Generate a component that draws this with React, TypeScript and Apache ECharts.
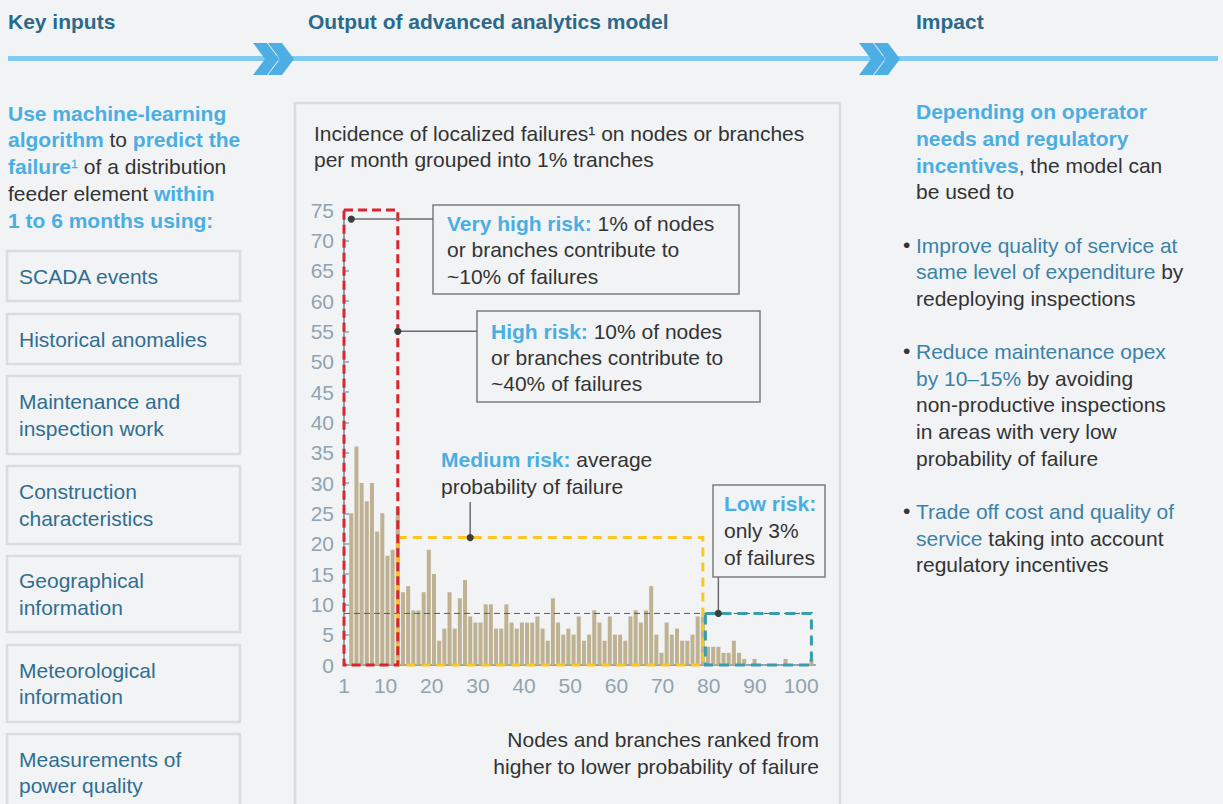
import React, { useEffect, useRef } from 'react';
import * as echarts from 'echarts';

// Incidence of localized failures per month, one bar per 1% tranche (ranked)
const failuresPerTranche = [
  25, 36, 30, 27, 30, 22, 25, 18, 19, 26,
  12, 13, 9, 9, 12, 19, 15, 4, 6, 12,
  6, 11, 14, 8, 7, 7, 10, 10, 6, 6,
  10, 7, 6, 7, 7, 7, 8, 6, 4, 11,
  7, 5, 6, 5, 8, 4, 5, 9, 7, 4,
  8, 5, 5, 4, 8, 9, 7, 9, 13, 5,
  2, 7, 5, 6, 4, 4, 5, 8, 8, 3,
  3, 3, 2, 2, 4, 2, 1, 0, 1, 0,
  0, 0, 0, 0, 1, 0, 0, 0, 0, 1,
];
const xTickValues = [1, 10, 20, 30, 40, 50, 60, 70, 80, 90, 100];
const xAxisMin = 1;
const xAxisMax = 103;
const yAxisMax = 75;
const yAxisStep = 5;
const averageFailures = 8.5;

// risk groups: last tranche of each group and height of the dashed frame
const highRiskLastTranche = 10;
const highRiskTop = 75;
const mediumRiskLastTranche = 69;
const mediumRiskTop = 21;
const lowRiskLastTranche = 90;
const lowRiskTop = 8.5;
// annotation anchor points [tranche, value]
const veryHighAnchor = [1, 73.5];
const highAnchor = [10, 55];
const mediumAnchor = [24, 21];
const lowAnchor = [72, 8.5];

const FF = '"Liberation Sans", Arial, Helvetica, sans-serif';
const C = {
  bg: '#f2f3f5',
  blue: '#4aaee2',
  dark: '#333333',
  teal: '#3a82a8',
  head: '#2a6a8c',
  box: '#2f6e91',
  axis: '#8fa3b1',
  bar: '#bfb292',
};
const FS = 21;
const rich: any = {
  b: { fill: C.blue, fontWeight: 'bold', fontSize: FS, fontFamily: FF },
  s: { fill: C.blue, fontSize: FS, fontFamily: FF },
  r: { fill: C.dark, fontSize: FS, fontFamily: FF },
  t: { fill: C.teal, fontSize: FS, fontFamily: FF },
  k: { fill: C.box, fontSize: FS, fontFamily: FF },
  h: { fill: C.head, fontWeight: 'bold', fontSize: FS, fontFamily: FF },
};

function textLine(x: number, y: number, parts: [string, string][], align = 'left') {
  return {
    type: 'text',
    x,
    y,
    z: 30,
    silent: true,
    style: {
      text: parts.map(([k, s]) => `{${k}|${s}}`).join(''),
      rich,
      align,
      verticalAlign: 'middle',
      fontFamily: FF,
      fontSize: FS,
    },
  };
}

function chevron(x: number) {
  return {
    type: 'polygon',
    z: 5,
    shape: {
      points: [
        [x, 43], [x + 14, 43], [x + 26, 59], [x + 14, 75], [x, 75], [x + 12, 59],
      ],
    },
    style: { fill: '#4daee3' },
  };
}

function boxRect(x: number, y: number, w: number, h: number, stroke: string, lw: number) {
  return {
    type: 'rect',
    z: 4,
    shape: { x, y, width: w, height: h },
    style: { fill: 'none', stroke, lineWidth: lw },
  };
}

export default function App() {
  const ref = useRef<HTMLDivElement>(null);
  useEffect(() => {
    const chart = echarts.init(ref.current!, null, { renderer: 'svg', width: 1223, height: 804 });
    const categories = failuresPerTranche.map((_, i) => String(i + 1));
    const axisLabelStyle = { color: C.axis, fontSize: FS, fontFamily: FF };
    const baseOption: any = {
      animation: false,
      backgroundColor: C.bg,
      grid: [
        { left: 344, top: 210, width: 471, height: 455 },
        { left: 348.7, top: 210, width: 465.3, height: 455 },
      ],
      xAxis: [
        {
          type: 'value',
          gridIndex: 0,
          min: xAxisMin,
          max: xAxisMax,
          axisLine: { show: true, lineStyle: { color: C.axis, width: 2 } },
          axisTick: { show: false },
          splitLine: { show: false },
          axisLabel: { ...axisLabelStyle, margin: 10, customValues: xTickValues, showMinLabel: true },
        },
        {
          type: 'category',
          gridIndex: 1,
          data: categories,
          show: false,
        },
      ],
      yAxis: [
        {
          type: 'value',
          gridIndex: 0,
          min: 0,
          max: yAxisMax,
          interval: yAxisStep,
          axisLine: { show: true, lineStyle: { color: C.axis, width: 2 } },
          axisTick: { show: true, inside: true, length: 5, lineStyle: { color: C.axis, width: 1.5 } },
          splitLine: { show: false },
          axisLabel: { ...axisLabelStyle, margin: 10 },
        },
        { type: 'value', gridIndex: 1, min: 0, max: yAxisMax, show: false },
      ],
      series: [
        {
          type: 'bar',
          xAxisIndex: 1,
          yAxisIndex: 1,
          data: failuresPerTranche,
          barCategoryGap: '22%',
          itemStyle: { color: C.bar },
          silent: true,
        },
      ],
    };
    chart.setOption(baseOption);

    const cx = (t: number) => chart.convertToPixel({ xAxisIndex: 1 }, t - 1) as number;
    const band = cx(2) - cx(1);
    const vy = (v: number) => chart.convertToPixel({ yAxisIndex: 1 }, v) as number;
    const axisLeft = chart.convertToPixel({ xAxisIndex: 0 }, xAxisMin) as number;
    const y0 = vy(0);

    const dashRect = (x1: number, x2: number, top: number, color: string, dash: number[], z: number) => ({
      type: 'rect',
      z,
      silent: true,
      shape: { x: x1, y: vy(top), width: x2 - x1, height: y0 - vy(top) },
      style: { fill: 'none', stroke: color, lineWidth: 3, lineDash: dash },
    });
    const dot = (x: number, y: number) => ({
      type: 'circle', z: 26, shape: { cx: x, cy: y, r: 3.6 }, style: { fill: '#3d3d3d' },
    });
    const leader = (x1: number, y1: number, x2: number, y2: number) => ({
      type: 'line', z: 25, shape: { x1, y1, x2, y2 }, style: { stroke: '#6b6b6b', lineWidth: 1.5 },
    });

    const vhX = cx(veryHighAnchor[0]);
    const vhY = vy(veryHighAnchor[1]);
    const hX = cx(highAnchor[0]);
    const hY = vy(highAnchor[1]);
    const mX = cx(mediumAnchor[0]);
    const mY = vy(mediumAnchor[1]);
    const lX = cx(lowAnchor[0]);
    const lY = vy(lowAnchor[1]);

    const leftBoxes: [number, number, string[]][] = [
      [251, 301, ['SCADA events']],
      [314, 364, ['Historical anomalies']],
      [376, 454, ['Maintenance and', 'inspection work']],
      [466, 544, ['Construction', 'characteristics']],
      [556, 632, ['Geographical', 'information']],
      [645, 722, ['Meteorological', 'information']],
      [734, 811, ['Measurements of', 'power quality']],
    ];
    const leftBoxGraphics: any[] = [];
    leftBoxes.forEach(([top, bottom, lines]) => {
      leftBoxGraphics.push(boxRect(7, top, 233, bottom - top, '#dcdcdc', 2.5));
      const mid = (top + bottom) / 2;
      lines.forEach((l, i) => {
        const y = lines.length === 1 ? mid : mid + (i === 0 ? -13.3 : 13.3);
        leftBoxGraphics.push(textLine(19, y, [['k', l]]));
      });
    });

    const graphics: any[] = [
      // header
      textLine(8, 21, [['h', 'Key inputs']]),
      textLine(308, 21, [['h', 'Output of advanced analytics model']]),
      textLine(916, 21, [['h', 'Impact']]),
      { type: 'rect', z: 4, shape: { x: 8, y: 56, width: 1210, height: 5 }, style: { fill: '#7fcbf2' } },
      chevron(253), chevron(268), chevron(859), chevron(874),

      // left column
      textLine(8, 113, [['b', 'Use machine-learning']]),
      textLine(8, 139, [['b', 'algorithm'], ['r', ' to '], ['b', 'predict the']]),
      textLine(8, 166, [['b', 'failure'], ['s', '¹'], ['r', ' of a distribution']]),
      textLine(8, 193, [['r', 'feeder element '], ['b', 'within']]),
      textLine(8, 220, [['b', '1 to 6 months using:']]),
      ...leftBoxGraphics,

      // middle panel
      boxRect(295, 103, 545, 720, '#dadbdb', 2.5),
      textLine(314, 133, [['r', 'Incidence of localized failures¹ on nodes or branches']]),
      textLine(314, 159, [['r', 'per month grouped into 1% tranches']]),
      textLine(819, 739, [['r', 'Nodes and branches ranked from']], 'right'),
      textLine(819, 766, [['r', 'higher to lower probability of failure']], 'right'),

      // average line and risk frames
      {
        type: 'line', z: 9, silent: true,
        shape: { x1: axisLeft, y1: vy(averageFailures), x2: cx(lowRiskLastTranche) + band / 2, y2: vy(averageFailures) },
        style: { stroke: '#5a5a5a', lineWidth: 1, lineDash: [6, 4] },
      },
      dashRect(cx(highRiskLastTranche), cx(mediumRiskLastTranche), mediumRiskTop, '#f9c623', [9, 6], 10),
      dashRect(cx(mediumRiskLastTranche) + band / 2, cx(lowRiskLastTranche), lowRiskTop, '#3a9cad', [10, 6], 11),
      dashRect(axisLeft, cx(highRiskLastTranche), highRiskTop, '#d7262f', [9, 5], 12),

      // annotations
      leader(vhX, vhY, 433, vhY), dot(vhX, vhY),
      leader(hX, hY, 477, hY), dot(hX, hY),
      leader(mX, 502, mX, mY), dot(mX, mY),
      leader(lX, 577, lX, lY), dot(lX, lY),

      { type: 'rect', z: 20, shape: { x: 433, y: 205, width: 306, height: 89 }, style: { fill: C.bg, stroke: '#7d7d7d', lineWidth: 1.5 } },
      textLine(447, 223, [['b', 'Very high risk:'], ['r', ' 1% of nodes']]),
      textLine(447, 249, [['r', 'or branches contribute to']]),
      textLine(447, 276, [['r', '~10% of failures']]),

      { type: 'rect', z: 20, shape: { x: 477, y: 311, width: 283, height: 91 }, style: { fill: C.bg, stroke: '#7d7d7d', lineWidth: 1.5 } },
      textLine(491, 331, [['b', 'High risk:'], ['r', ' 10% of nodes']]),
      textLine(491, 357, [['r', 'or branches contribute to']]),
      textLine(491, 383, [['r', '~40% of failures']]),

      textLine(441, 459, [['b', 'Medium risk:'], ['r', ' average']]),
      textLine(441, 486, [['r', 'probability of failure']]),

      { type: 'rect', z: 20, shape: { x: 713, y: 485, width: 112, height: 92 }, style: { fill: C.bg, stroke: '#7d7d7d', lineWidth: 1.5 } },
      textLine(724, 503, [['b', 'Low risk:']]),
      textLine(724, 530, [['r', 'only 3%']]),
      textLine(724, 557, [['r', 'of failures']]),

      // right column
      textLine(916, 111, [['b', 'Depending on operator']]),
      textLine(916, 138, [['b', 'needs and regulatory']]),
      textLine(916, 165, [['b', 'incentives'], ['r', ', the model can']]),
      textLine(916, 191, [['r', 'be used to']]),

      textLine(903, 244, [['r', '•']]),
      textLine(916, 245, [['t', 'Improve quality of service at']]),
      textLine(916, 271, [['t', 'same level of expenditure'], ['r', ' by']]),
      textLine(916, 298, [['r', 'redeploying inspections']]),

      textLine(903, 350, [['r', '•']]),
      textLine(916, 351, [['t', 'Reduce maintenance opex']]),
      textLine(916, 378, [['t', 'by 10–15%'], ['r', ' by avoiding']]),
      textLine(916, 404, [['r', 'non-productive inspections']]),
      textLine(916, 431, [['r', 'in areas with very low']]),
      textLine(916, 458, [['r', 'probability of failure']]),

      textLine(903, 510, [['r', '•']]),
      textLine(916, 511, [['t', 'Trade off cost and quality of']]),
      textLine(916, 538, [['t', 'service'], ['r', ' taking into account']]),
      textLine(916, 564, [['r', 'regulatory incentives']]),
    ];

    chart.setOption({ graphic: graphics });
    return () => chart.dispose();
  }, []);
  return <div ref={ref} style={{ position: 'absolute', left: 0, top: 0, width: 1223, height: 804 }} />;
}
